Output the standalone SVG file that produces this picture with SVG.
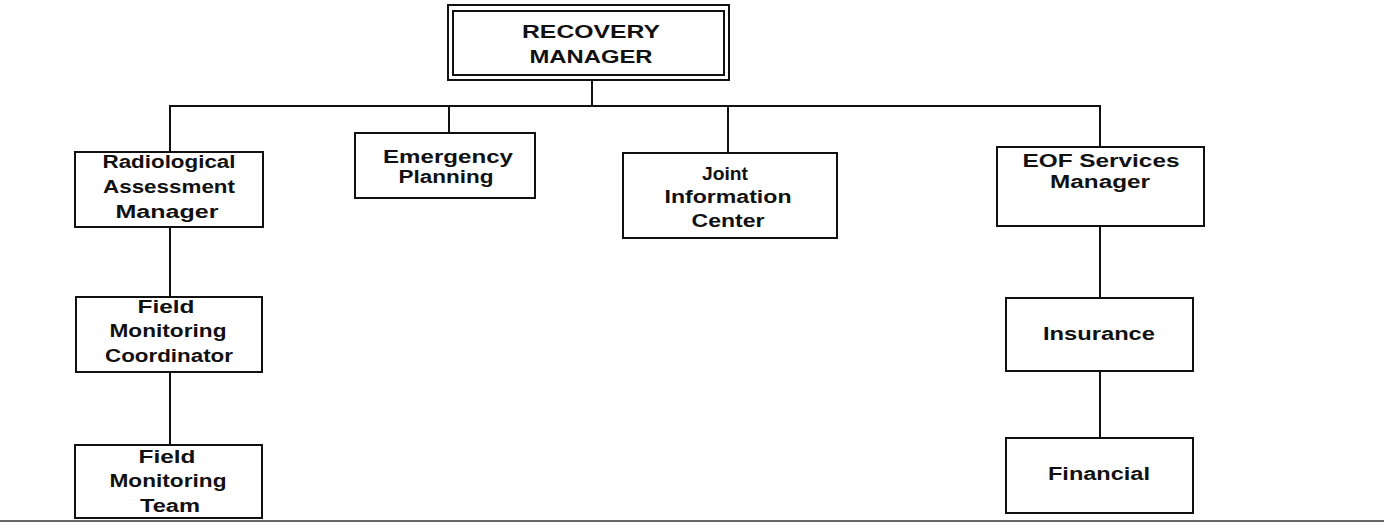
<svg xmlns="http://www.w3.org/2000/svg" width="1384" height="527" viewBox="0 0 1384 527">
<style>
.box{fill:#fff;stroke:#111;stroke-width:2}
.ln{stroke:#111;stroke-width:2;fill:none}
text{font-family:"Liberation Sans",Arial,sans-serif;font-size:18px;font-weight:bold;fill:#111;text-anchor:middle}
</style>
<rect width="1384" height="527" fill="#fff"/>
<g id="connectors">
<line class="ln" x1="592" y1="79" x2="592" y2="106"/>
<line class="ln" x1="169" y1="106" x2="1101" y2="106"/>
<line class="ln" x1="170" y1="106" x2="170" y2="152"/>
<line class="ln" x1="449" y1="106" x2="449" y2="133"/>
<line class="ln" x1="728" y1="106" x2="728" y2="153"/>
<line class="ln" x1="1100" y1="106" x2="1100" y2="147"/>
<line class="ln" x1="170" y1="227" x2="170" y2="297"/>
<line class="ln" x1="170" y1="372" x2="170" y2="445"/>
<line class="ln" x1="1100" y1="226" x2="1100" y2="298"/>
<line class="ln" x1="1100" y1="371" x2="1100" y2="438"/>
<line x1="0" y1="521" x2="1384" y2="521" stroke="#333" stroke-width="1.5"/>
</g>
<g id="recovery-manager">
<rect class="box" x="448" y="5" width="281" height="75"/>
<rect class="box" x="453" y="11" width="271" height="64"/>
<text x="591" y="38" textLength="138" lengthAdjust="spacingAndGlyphs">RECOVERY</text>
<text x="591" y="63" textLength="123" lengthAdjust="spacingAndGlyphs">MANAGER</text>
</g>
<g id="radiological-assessment-manager">
<rect class="box" x="75" y="152" width="188" height="75"/>
<text x="169" y="168" textLength="133" lengthAdjust="spacingAndGlyphs">Radiological</text>
<text x="169" y="193" textLength="132" lengthAdjust="spacingAndGlyphs">Assessment</text>
<text x="167" y="218" textLength="103" lengthAdjust="spacingAndGlyphs">Manager</text>
</g>
<g id="emergency-planning">
<rect class="box" x="355" y="133" width="180" height="65"/>
<text x="448" y="163" textLength="130" lengthAdjust="spacingAndGlyphs">Emergency</text>
<text x="446" y="183" textLength="95" lengthAdjust="spacingAndGlyphs">Planning</text>
</g>
<g id="joint-information-center">
<rect class="box" x="623" y="153" width="214" height="85"/>
<text x="725" y="180" textLength="46" lengthAdjust="spacingAndGlyphs">Joint</text>
<text x="728" y="203" textLength="127" lengthAdjust="spacingAndGlyphs">Information</text>
<text x="728" y="227" textLength="73" lengthAdjust="spacingAndGlyphs">Center</text>
</g>
<g id="eof-services-manager">
<rect class="box" x="997" y="147" width="207" height="79"/>
<text x="1101" y="167" textLength="157" lengthAdjust="spacingAndGlyphs">EOF Services</text>
<text x="1100" y="188" textLength="100" lengthAdjust="spacingAndGlyphs">Manager</text>
</g>
<g id="field-monitoring-coordinator">
<rect class="box" x="76" y="297" width="186" height="75"/>
<text x="166" y="313" textLength="57" lengthAdjust="spacingAndGlyphs">Field</text>
<text x="168" y="337" textLength="117" lengthAdjust="spacingAndGlyphs">Monitoring</text>
<text x="169" y="362" textLength="128" lengthAdjust="spacingAndGlyphs">Coordinator</text>
</g>
<g id="field-monitoring-team">
<rect class="box" x="75" y="445" width="187" height="73"/>
<text x="167" y="463" textLength="57" lengthAdjust="spacingAndGlyphs">Field</text>
<text x="168" y="487" textLength="117" lengthAdjust="spacingAndGlyphs">Monitoring</text>
<text x="170" y="512" textLength="60" lengthAdjust="spacingAndGlyphs">Team</text>
</g>
<g id="insurance">
<rect class="box" x="1006" y="298" width="187" height="73"/>
<text x="1099" y="340" textLength="112" lengthAdjust="spacingAndGlyphs">Insurance</text>
</g>
<g id="financial">
<rect class="box" x="1006" y="438" width="187" height="75"/>
<text x="1099" y="480" textLength="102" lengthAdjust="spacingAndGlyphs">Financial</text>
</g>
</svg>
